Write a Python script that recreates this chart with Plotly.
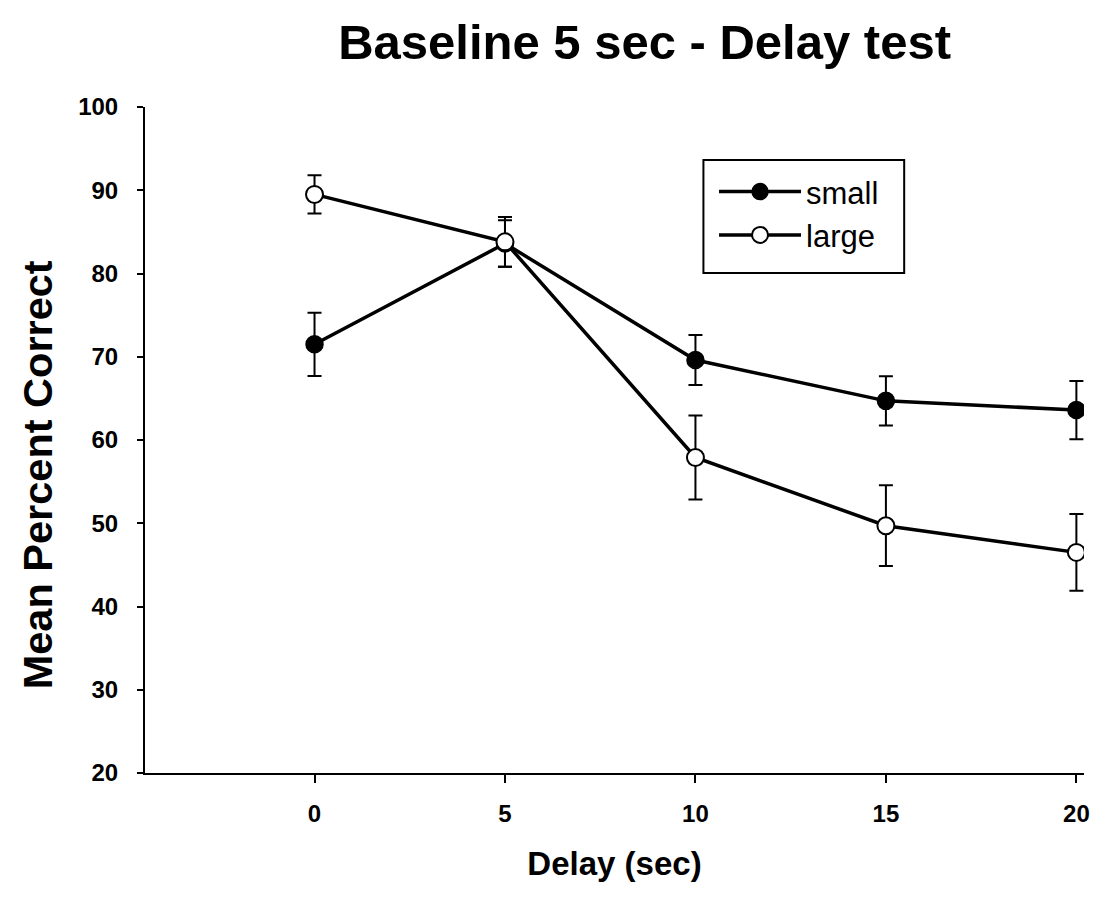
import plotly.graph_objects as go

delay = [0, 5, 10, 15, 20]
small_mean = [71.5, 83.6, 69.6, 64.7, 63.6]
small_err = [3.8, 2.8, 3.0, 2.95, 3.5]
large_mean = [89.5, 83.8, 57.9, 49.7, 46.5]
large_err = [2.3, 3.0, 5.05, 4.85, 4.6]
x_ticklabels = ["0", "5", "10", "15", "20"]

FONT = "Liberation Sans, Arial, sans-serif"

fig = go.Figure()
fig.add_trace(go.Scatter(
    x=delay, y=small_mean, name="small", mode="lines+markers",
    line=dict(color="black", width=3.5),
    marker=dict(symbol="circle", size=17, color="black", line=dict(color="black", width=1.5)),
    error_y=dict(type="data", array=small_err, visible=True, color="black", thickness=2, width=7),
))
fig.add_trace(go.Scatter(
    x=delay, y=large_mean, name="large", mode="lines+markers",
    line=dict(color="black", width=3.5),
    marker=dict(symbol="circle", size=17, color="white", line=dict(color="black", width=2)),
    error_y=dict(type="data", array=large_err, visible=True, color="black", thickness=2, width=7),
))

fig.update_layout(
    width=1090, height=881,
    margin=dict(l=137, r=8, t=99, b=116),
    paper_bgcolor="white", plot_bgcolor="white",
    font=dict(family=FONT, color="black"),
    title=dict(text="<b>Baseline 5 sec - Delay test</b>", x=0.584, xanchor="center",
               y=0.962, yanchor="middle", font=dict(size=49, family=FONT)),
    showlegend=True,
    legend=dict(x=0.606, y=0.913, xanchor="left", yanchor="top",
                borderwidth=0, bgcolor="rgba(0,0,0,0)",
                font=dict(size=31, family=FONT), itemwidth=82,
                tracegroupgap=0),
    shapes=[dict(type="rect", xref="paper", yref="paper",
                 x0=0.5947, x1=0.8085, y0=0.7508, y1=0.9204,
                 line=dict(color="black", width=2), fillcolor="rgba(0,0,0,0)",
                 layer="above")],
    annotations=[dict(
        text="<b>Mean Percent Correct</b>", textangle=-90,
        xref="paper", yref="paper", x=0, y=0.447, xshift=-108,
        xanchor="center", yanchor="middle", showarrow=False,
        font=dict(size=41.5, family=FONT),
    )],
)
fig.update_xaxes(
    range=[-4.45, 20.2], tickvals=delay, ticktext=["<b>" + t + "</b>" for t in x_ticklabels],
    showgrid=False, zeroline=False, showline=True, linecolor="black", linewidth=2,
    ticks="outside", ticklen=8, tickwidth=1.5, tickcolor="black",
    tickfont=dict(size=24, family=FONT), ticklabelstandoff=10,
    title=dict(text="<b>Delay (sec)</b>", font=dict(size=33, family=FONT), standoff=26),
)
fig.update_yaxes(
    range=[20, 100], dtick=10,
    showgrid=False, zeroline=False, showline=True, linecolor="black", linewidth=2,
    ticks="outside", ticklen=6, tickwidth=1.5, tickcolor="black",
    tickfont=dict(size=24, family=FONT), ticklabelstandoff=14,
    tickprefix="<b>", ticksuffix="</b>",
)

fig.write_html("out.html")
